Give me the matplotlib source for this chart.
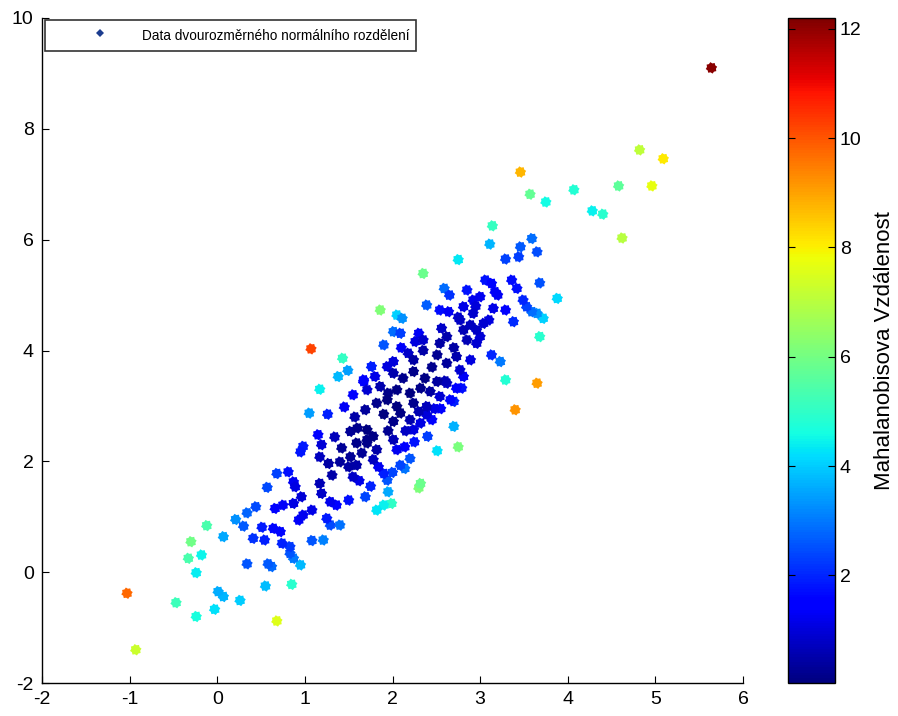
import numpy as np
import matplotlib
matplotlib.use("Agg")
import matplotlib.pyplot as plt
from matplotlib.path import Path
from matplotlib.lines import Line2D

plt.rcParams['font.family'] = ['Liberation Sans', 'DejaVu Sans']
plt.rcParams['axes.unicode_minus'] = False

# ---- data (x, y) ----
x_vals = [
    5.64, 4.82, 5.09, 4.96, 4.58, 3.46, 3.57, 3.75, 4.07, 4.28, 4.40, 4.62, 3.14, 3.59, 3.11,
    -1.03, -0.93, -0.47, -0.24, -0.03, 0.01, 0.07, 0.26, -0.24, -0.33, -0.18, -0.30, -0.12, 0.07,
    0.21, 0.30, 0.34, 0.44, 0.57, 0.51, 0.41, 0.54, 0.34, 0.58,
    1.07, 1.43, 1.38, 1.49, 1.17, 1.05, 1.26, 1.45, 1.67, 1.57, 1.69, 1.15, 1.34, 1.52, 0.98,
    1.19, 1.42, 1.59, 1.71,
    0.95, 1.17, 1.27, 1.40, 1.52, 1.59, 0.68, 0.81, 0.87, 0.89, 1.17, 1.19, 1.29, 1.36, 1.31,
    1.55, 1.50, 1.69, 0.96, 0.87, 0.75, 0.66, 1.08, 0.98, 0.93, 1.25, 1.29, 1.40, 0.64, 0.72,
    0.74, 0.83, 1.08, 1.21, 0.87, 0.95, 0.83,
    1.86, 2.05, 2.11, 2.39, 2.54, 2.64, 2.01, 2.09, 2.30, 2.26, 2.35, 2.56, 2.62, 2.54, 2.77,
    2.81, 2.18, 2.24, 2.01, 1.94, 2.51, 2.62, 2.73, 2.77, 2.81, 1.76, 1.80, 2.01, 2.12, 2.24,
    2.37, 2.51, 2.62, 2.73, 1.67, 1.71, 1.86, 1.95, 2.05, 2.20, 2.32, 2.43, 2.54, 2.66, 1.82,
    1.94, 2.05, 2.24, 2.39,
    2.39, 2.32, 2.24, 2.70, 2.01, 2.09, 2.01, 1.71, 1.71, 1.78, 1.82, 1.78, 1.84, 1.90, 1.94,
    2.05, 2.14, 2.09, 2.14, 2.70, 2.51, 2.75, 2.32, 1.95, 1.82, 1.90, 1.99,
    3.46, 3.44, 3.65, 3.29, 2.75, 3.06, 3.13, 3.17, 2.85, 2.92, 3.00, 3.36, 3.42, 3.68, 3.88,
    3.49, 3.53, 3.59, 3.72, 3.65, 3.15, 3.29, 3.38, 2.81, 2.92, 2.89, 2.96, 3.04, 3.68,
    3.13, 3.23, 2.85, 2.96, 2.89, 2.79, 3.29, 3.65, 3.40,
    2.35, 2.59,
    0.68, 0.55, 0.85, 0.62, 2.30,
    2.45, 2.55, 2.20, 2.30, 2.15, 2.25, 2.40, 1.95, 1.90, 1.60, 1.65, 1.50, 1.62, 1.75, 2.00,
    2.20, 2.45, 2.35, 2.70, 2.95, 3.00, 3.10, 3.20, 2.65, 2.75, 1.55, 1.90, 2.10, 2.48, 2.60,
]
y_vals = [
    9.10, 7.62, 7.46, 6.97, 6.97, 7.22, 6.82, 6.68, 6.90, 6.52, 6.46, 6.03, 6.25, 6.02, 5.92,
    -0.38, -1.40, -0.55, -0.80, -0.67, -0.35, -0.44, -0.51, -0.01, 0.25, 0.31, 0.55, 0.84, 0.64,
    0.95, 0.83, 1.07, 1.18, 1.53, 0.81, 0.61, 0.58, 0.15, 0.15,
    4.03, 3.86, 3.53, 3.64, 3.30, 2.87, 2.85, 2.98, 3.44, 2.80, 2.93, 2.48, 2.44, 2.54, 2.27,
    2.30, 2.24, 2.33, 2.39,
    2.17, 2.08, 1.96, 1.99, 2.08, 1.93, 1.78, 1.81, 1.63, 1.54, 1.60, 1.42, 1.27, 1.21, 1.75,
    1.72, 1.30, 1.36, 1.36, 1.24, 1.21, 1.15, 1.12, 1.03, 0.94, 0.97, 0.85, 0.85, 0.79, 0.73,
    0.52, 0.46, 0.57, 0.58, 0.25, 0.13, 0.34,
    4.73, 4.64, 4.58, 4.82, 4.73, 4.70, 4.34, 4.31, 4.31, 4.16, 4.19, 4.40, 4.25, 4.13, 4.55,
    4.37, 3.95, 3.83, 3.80, 3.71, 3.92, 3.77, 3.89, 3.65, 3.53, 3.71, 3.53, 3.59, 3.50, 3.62,
    3.50, 3.44, 3.41, 3.32, 3.47, 3.29, 3.35, 3.23, 3.29, 3.23, 3.32, 3.26, 3.17, 3.11, 3.05,
    3.11, 2.99, 3.05, 2.99,
    2.84, 2.69, 2.57, 3.08, 2.72, 2.87, 2.39, 2.57, 2.33, 2.45, 2.21, 2.03, 1.90, 1.78, 1.66,
    2.21, 2.26, 1.93, 1.87, 2.63, 2.19, 2.26, 1.60, 1.45, 1.12, 1.21, 1.24,
    5.87, 5.69, 5.78, 5.65, 5.64, 5.27, 5.21, 5.06, 5.09, 4.91, 4.97, 5.27, 5.12, 5.22, 4.94,
    4.91, 4.79, 4.70, 4.58, 4.67, 4.76, 4.73, 4.52, 4.79, 4.67, 4.46, 4.37, 4.49, 4.25,
    3.92, 3.80, 4.19, 4.13, 3.83, 3.32, 3.47, 3.41, 2.93,
    5.39, 5.12,
    -0.88, -0.25, -0.22, 0.10, 1.52,
    2.75, 2.95, 2.75, 2.90, 2.55, 2.35, 2.45, 2.55, 2.85, 2.60, 2.15, 1.90, 1.65, 1.55, 1.80,
    2.05, 3.70, 4.00, 4.05, 4.80, 4.25, 4.55, 5.00, 5.00, 4.60, 3.20, 4.10, 4.05, 2.95, 3.45,
]

x_ticks = [-2, -1, 0, 1, 2, 3, 4, 5, 6]
y_ticks = [-2, 0, 2, 4, 6, 8, 10]
cbar_ticks = [2, 4, 6, 8, 10, 12]
cbar_limits = (0.03, 12.2)
# centre and covariance of the fitted normal distribution (estimated from the colours)
dist_mean = [2.0, 3.0]
dist_cov = [[1.18, 1.745], [1.745, 3.19]]
legend_label = "Data dvourozměrného normálního rozdělení"
cbar_label = "Mahalanobisova Vzdálenost"

X = np.column_stack([x_vals, y_vals])
Ci = np.linalg.inv(np.array(dist_cov))
D = X - np.array(dist_mean)
d2 = np.einsum('ij,jk,ik->i', D, Ci, D)   # squared Mahalanobis distance

# gear-like marker
n = 16
ang = np.linspace(0, 2 * np.pi, n, endpoint=False) + np.pi / 16
rad = np.where(np.arange(n) % 2 == 0, 1.0, 0.78)
verts = np.column_stack([rad * np.cos(ang), rad * np.sin(ang)])
verts = np.vstack([verts, verts[:1]])
codes = [Path.MOVETO] + [Path.LINETO] * (n - 1) + [Path.CLOSEPOLY]
gear = Path(verts, codes)

fig = plt.figure(figsize=(8.98, 7.16), dpi=100)
ax = fig.add_axes([42 / 898, 33 / 716, 701 / 898, 665 / 716])
cax = fig.add_axes([788 / 898, 33 / 716, 47 / 898, 665 / 716])

order = np.argsort(d2)[::-1]
sc = ax.scatter(X[order, 0], X[order, 1], c=d2[order], cmap='jet',
                vmin=cbar_limits[0], vmax=cbar_limits[1],
                s=68, marker=gear, linewidths=0)

ax.set_xlim(-2, 6)
ax.set_ylim(-2, 10)
ax.set_xticks(x_ticks)
ax.set_yticks(y_ticks)
ax.tick_params(direction='in', labelsize=14, length=5, width=0.8, pad=6)
for sp in ['top', 'right']:
    ax.spines[sp].set_visible(False)
for sp in ['left', 'bottom']:
    ax.spines[sp].set_linewidth(1.0)

handle = Line2D([], [], linestyle='none', marker='D', markersize=3.8,
                color='#1c3d8f', markeredgewidth=0)
leg = ax.legend([handle], [legend_label], loc='upper left', bbox_to_anchor=(0.004, 0.997),
                borderaxespad=0, fontsize=9.8,
                frameon=True, fancybox=False,
                edgecolor='black', handlelength=7.1, handletextpad=-0.45,
                handleheight=1.57, borderpad=0.5)
leg.get_frame().set_linewidth(1.2)

cb = fig.colorbar(sc, cax=cax)
cb.set_ticks(cbar_ticks)
cb.ax.tick_params(direction='in', labelsize=14, length=5, width=0.8,
                  left=True, right=True)
cb.set_label(cbar_label, fontsize=16, labelpad=9)
cb.outline.set_linewidth(1.0)

fig.savefig("out.png", dpi=100)
